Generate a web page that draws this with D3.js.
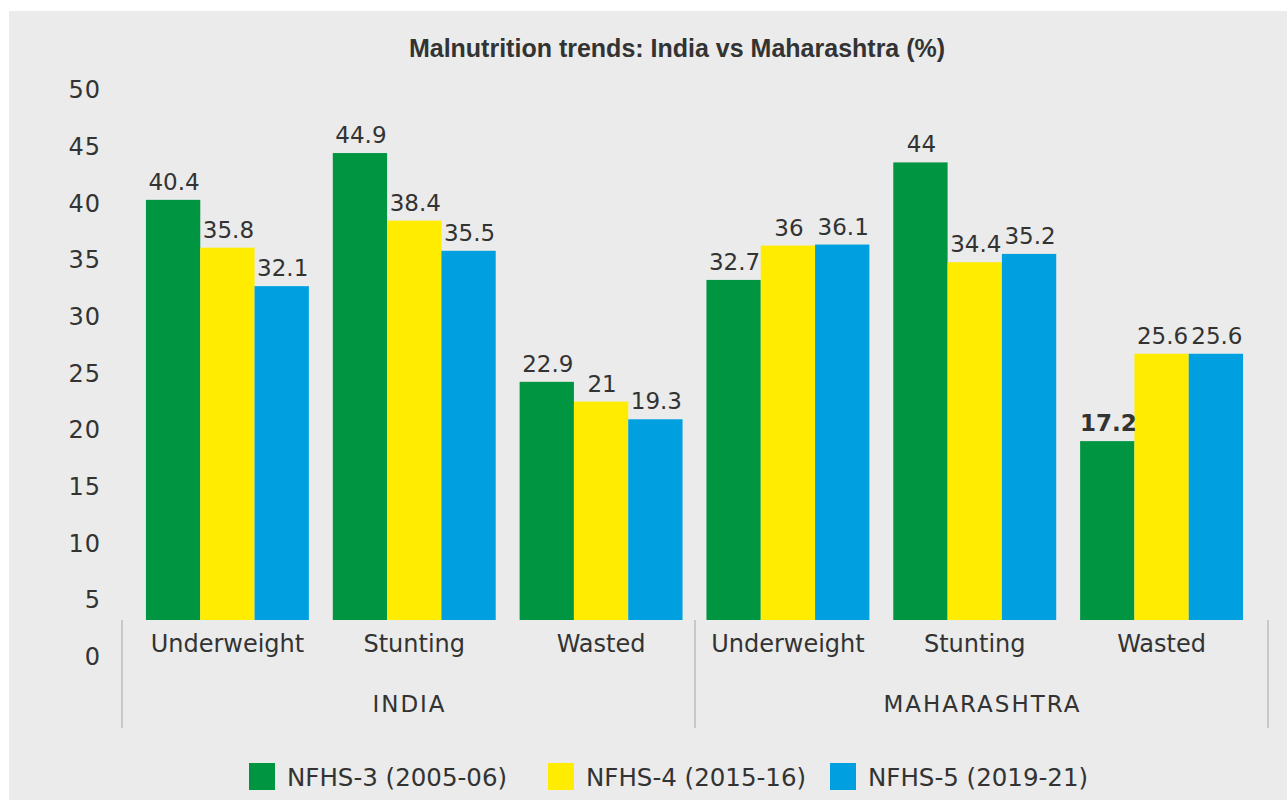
<!DOCTYPE html>
<meta charset="utf-8" />
<title>Malnutrition trends</title>
<script src="https://d3js.org/d3.v7.min.js"></script>
<style>
  body { margin: 0; background: #fff; }
  svg { display: block; }
  text { fill: #333; font-family: "DejaVu Sans", sans-serif; }
</style>
<div id="chart"></div>
<script>
  // data
  var regions = ["INDIA", "MAHARASHTRA"];
  var indicators = ["Underweight", "Stunting", "Wasted"];
  var series = ["NFHS-3 (2005-06)", "NFHS-4 (2015-16)", "NFHS-5 (2019-21)"];
  var nfhs3 = [40.4, 44.9, 22.9, 32.7, 44, 17.2];
  var nfhs4 = [35.8, 38.4, 21, 36, 34.4, 25.6];
  var nfhs5 = [32.1, 35.5, 19.3, 36.1, 35.2, 25.6];
  var yTicks = [0, 5, 10, 15, 20, 25, 30, 35, 40, 45, 50];
  var colors = ["#009641", "#ffec00", "#00a0e0"];

  var width = 1287, height = 800;
  var values = [nfhs3, nfhs4, nfhs5];

  // one row per bar group
  var groups = [];
  regions.forEach((r, ri) => {
    indicators.forEach((c, ci) => {
      groups.push({ key: r + "|" + c, region: r, cat: c, i: ri * 3 + ci });
    });
  });

  var svg = d3.select("#chart").append("svg")
    .attr("width", width)
    .attr("height", height);

  // grey panel
  svg.append("rect")
    .attr("x", 9).attr("y", 11)
    .attr("width", width - 9).attr("height", height - 11)
    .attr("fill", "#eaebea");

  svg.append("text")
    .attr("x", 677).attr("y", 57)
    .attr("text-anchor", "middle")
    .style("font-family", "'Liberation Sans', sans-serif")
    .style("font-weight", "bold")
    .style("font-size", "25px")
    .text("Malnutrition trends: India vs Maharashtra (%)");

  // scales
  var x0 = d3.scaleBand()
    .domain(groups.map(d => d.key))
    .range([134, 1255])
    .paddingInner(0.128)
    .paddingOuter(0.064);

  var x1 = d3.scaleBand()
    .domain(series)
    .range([0, x0.bandwidth()]);

  var xRegion = d3.scaleBand()
    .domain(regions)
    .range([122, 1268]);

  var y = d3.scaleLinear().domain([0, 50]).range([620, 100]);
  // the printed axis labels sit on their own spacing in the source
  var yLabel = d3.scaleLinear().domain([0, 50]).range([657, 90]);

  var yAxis = d3.axisLeft(yLabel).tickValues(yTicks).tickSize(0).tickPadding(0);
  var gy = svg.append("g")
    .attr("transform", "translate(101,0)")
    .call(yAxis);
  gy.select(".domain").remove();
  gy.selectAll("text")
    .style("font-family", "'DejaVu Sans', sans-serif")
    .style("font-size", "24px")
    .style("letter-spacing", "1px")
    .attr("fill", "#333");

  // bars
  var gGroup = svg.selectAll("g.grp")
    .data(groups)
    .join("g")
    .attr("class", "grp")
    .attr("transform", d => "translate(" + x0(d.key) + ",0)");

  gGroup.selectAll("rect")
    .data(d => series.map((s, si) => ({ s: s, si: si, v: values[si][d.i] })))
    .join("rect")
    .attr("x", d => x1(d.s))
    .attr("y", d => y(d.v))
    .attr("width", x1.bandwidth())
    .attr("height", d => y(0) - y(d.v))
    .attr("fill", d => colors[d.si]);

  gGroup.selectAll("text.val")
    .data(d => series.map((s, si) => ({ s: s, si: si, v: values[si][d.i], g: d })))
    .join("text")
    .attr("class", "val")
    .attr("x", d => x1(d.s) + x1.bandwidth() / 2 + 1)
    .attr("y", d => y(d.v) - 10)
    .attr("text-anchor", "middle")
    .style("font-size", "23px")
    .style("font-weight", d => (d.g.region === "MAHARASHTRA" && d.g.cat === "Wasted" && d.si === 0) ? "bold" : "normal")
    .text(d => d.v);

  // category axis
  svg.selectAll("text.cat")
    .data(groups)
    .join("text")
    .attr("class", "cat")
    .attr("x", d => x0(d.key) + x0.bandwidth() / 2)
    .attr("y", 652)
    .attr("text-anchor", "middle")
    .style("font-size", "24px")
    .text(d => d.cat);

  svg.selectAll("text.region")
    .data(regions)
    .join("text")
    .attr("class", "region")
    .attr("x", d => xRegion(d) + xRegion.bandwidth() / 2 + 1)
    .attr("y", 712)
    .attr("text-anchor", "middle")
    .style("font-size", "23px")
    .style("letter-spacing", "2px")
    .text(d => d);

  var seps = regions.map(d => xRegion(d)).concat([xRegion.range()[1]]);
  svg.selectAll("line.sep")
    .data(seps)
    .join("line")
    .attr("class", "sep")
    .attr("x1", d => d).attr("x2", d => d)
    .attr("y1", 620).attr("y2", 728)
    .attr("stroke", "#bcbcbc")
    .attr("stroke-width", 1.5);

  // legend
  var legendX = [249, 548, 830];
  var legend = svg.selectAll("g.leg")
    .data(series)
    .join("g")
    .attr("class", "leg")
    .attr("transform", (d, i) => "translate(" + legendX[i] + ",763)");
  legend.append("rect")
    .attr("width", 26).attr("height", 27)
    .attr("fill", (d, i) => colors[i]);
  legend.append("text")
    .attr("x", 38).attr("y", 23)
    .style("font-size", "24.5px")
    .text(d => d);
</script>
